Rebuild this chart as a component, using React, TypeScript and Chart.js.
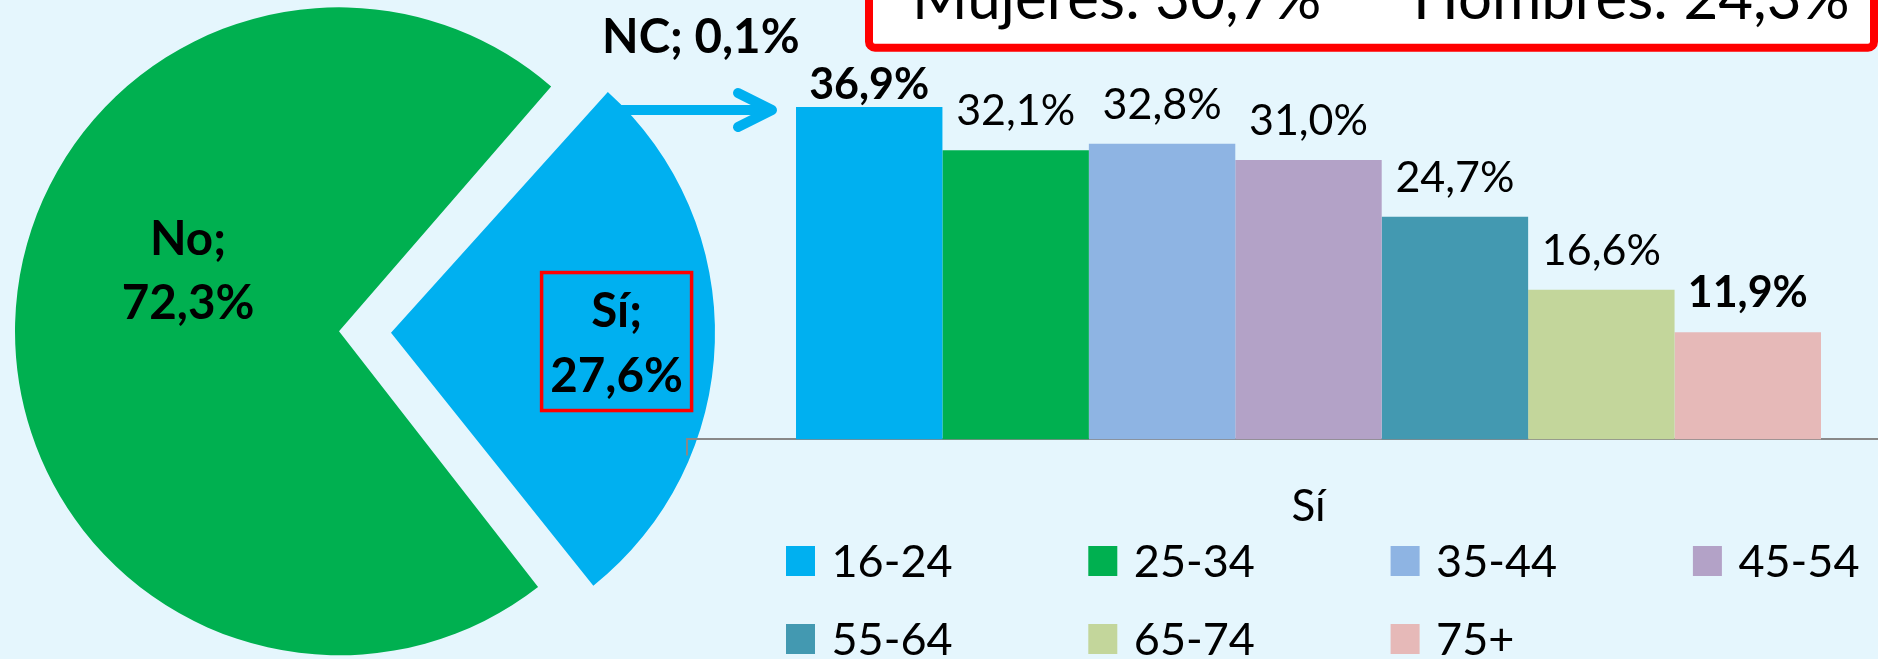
import React, { useEffect, useRef } from 'react';
import { Chart, registerables } from 'chart.js';

Chart.register(...registerables);

// ---------- data ----------
const pieLabels = ['Sí', 'No', 'NC'];
const pieValues = [27.6, 72.3, 0.1];
const pieColors = ['#00B0F0', '#00B050', '#D9D3BC'];

const barCategories = ['Sí'];
const ageGroups = ['16-24', '25-34', '35-44', '45-54', '55-64', '65-74', '75+'];
const siValues = [36.9, 32.1, 32.8, 31.0, 24.7, 16.6, 11.9];
const barColors = ['#00B0F0', '#00B050', '#8EB4E3', '#B3A2C7', '#4399B1', '#C3D69B', '#E6B9B8'];

const genderTexts = ['Mujeres: 30,7%', 'Hombres: 24,3%'];

// ---------- style ----------
const BG = '#E5F6FD';
const FONT = 'Lato, "Open Sans", sans-serif';
const fmt = (v: number) => v.toFixed(1).replace('.', ',') + '%';

// label placement for pie slices (angle delta from bisector, fraction of radius)
const piePlacement = [
  { dAngle: 0.8, frac: 0.697, twoLines: true, box: true },
  { dAngle: 20.6, frac: 0.503, twoLines: true, box: false },
  { dAngle: 7.2, frac: 1.302, twoLines: false, box: false },
];

// keep exploded slices at the nominal radius
const explodeFix = {
  id: 'explodeFix',
  beforeDatasetDraw(chart: any, args: any) {
    const meta = args.meta;
    const R = meta.controller.outerRadius;
    meta.data.forEach((arc: any) => {
      const off = (arc.options.offset || 0) / 4;
      const fix = 1 - Math.sin(Math.min(Math.PI, arc.circumference || 0));
      arc.outerRadius = R - off * fix;
    });
  },
};

const pieLabelPlugin = {
  id: 'pieLabelPlugin',
  afterDatasetsDraw(chart: any) {
    const ctx = chart.ctx;
    const meta = chart.getDatasetMeta(0);
    const R = meta.controller.outerRadius;
    const size = 47.5;
    const cap = 0.72 * size;
    const gap = 64.5;
    ctx.save();
    ctx.fillStyle = '#000';
    ctx.textAlign = 'center';
    ctx.textBaseline = 'alphabetic';
    ctx.font = `bold ${size}px ${FONT}`;
    meta.data.forEach((arc: any, i: number) => {
      const p = piePlacement[i];
      const off = (arc.options.offset || 0) / 4;
      const mid = (arc.startAngle + arc.endAngle) / 2;
      const ax = arc.x + Math.cos(mid) * off;
      const ay = arc.y + Math.sin(mid) * off;
      const a = mid + (p.dAngle * Math.PI) / 180;
      const cx = ax + Math.cos(a) * p.frac * R;
      const cy = ay + Math.sin(a) * p.frac * R;
      const name = pieLabels[i];
      const val = fmt(pieValues[i]);
      if (p.twoLines) {
        ctx.fillText(name + ';', cx, cy - gap / 2 + cap / 2);
        ctx.fillText(val, cx, cy + gap / 2 + cap / 2);
      } else {
        ctx.fillText(name + '; ' + val, cx, cy + cap / 2);
      }
      if (p.box) {
        ctx.strokeStyle = '#FF0000';
        ctx.lineWidth = 3.5;
        ctx.strokeRect(cx - 75, cy - 70, 150, 138);
      }
    });
    ctx.restore();
  },
};

const barLabelPlugin = {
  id: 'barLabelPlugin',
  afterDatasetsDraw(chart: any) {
    const ctx = chart.ctx;
    const max = Math.max(...siValues);
    const min = Math.min(...siValues);
    ctx.save();
    ctx.fillStyle = '#000';
    ctx.textAlign = 'center';
    ctx.textBaseline = 'alphabetic';
    chart.data.datasets.forEach((ds: any, i: number) => {
      const bar = chart.getDatasetMeta(i).data[0];
      const v = ds.data[0];
      const bold = v === max || v === min;
      ctx.font = `${bold ? 'bold ' : ''}43px ${FONT}`;
      const lift = i === 0 ? 7.5 : 25;
      ctx.fillText(fmt(v), bar.x, bar.y - lift);
    });
    ctx.restore();
  },
};

const legendPlugin = {
  id: 'gridLegend',
  afterDraw(chart: any) {
    const ctx = chart.ctx;
    const area = chart.chartArea;
    const cols = 4;
    const x0 = 786;
    const colW = 302.3;
    const row0 = area.bottom + 106.6;
    const rowH = 78;
    const bw = 29;
    const bh = 30;
    ctx.save();
    ctx.textAlign = 'left';
    ctx.textBaseline = 'alphabetic';
    ctx.font = `45px ${FONT}`;
    chart.data.datasets.forEach((ds: any, i: number) => {
      const c = i % cols;
      const r = Math.floor(i / cols);
      const x = x0 + c * colW;
      const y = row0 + r * rowH;
      ctx.fillStyle = ds.backgroundColor;
      ctx.fillRect(x, y, bw, bh);
      ctx.fillStyle = '#000';
      ctx.fillText(ds.label, x + bw + 16.5, y + bh + 1);
    });
    ctx.restore();
  },
};

const annotationPlugin = {
  id: 'annotations',
  afterDraw(chart: any) {
    const ctx = chart.ctx;
    ctx.save();
    // arrow
    ctx.strokeStyle = '#00B0F0';
    ctx.lineWidth = 10;
    ctx.lineCap = 'butt';
    ctx.beginPath();
    ctx.moveTo(612, 110);
    ctx.lineTo(770, 110);
    ctx.stroke();
    ctx.lineCap = 'round';
    ctx.lineJoin = 'round';
    ctx.beginPath();
    ctx.moveTo(738, 93);
    ctx.lineTo(772, 110);
    ctx.lineTo(738, 127);
    ctx.stroke();
    // gender box
    ctx.fillStyle = '#FFFFFF';
    ctx.strokeStyle = '#FF0000';
    ctx.lineWidth = 8;
    ctx.beginPath();
    ctx.roundRect(869, -40, 1005, 87.7, 6);
    ctx.fill();
    ctx.stroke();
    ctx.fillStyle = '#000';
    ctx.font = `60px ${FONT}`;
    ctx.textAlign = 'left';
    ctx.textBaseline = 'alphabetic';
    ctx.fillText(genderTexts[0], 912, 19);
    ctx.fillText(genderTexts[1], 1413, 19);
    ctx.restore();
  },
};

export default function App() {
  const pieRef = useRef<HTMLCanvasElement>(null);
  const barRef = useRef<HTMLCanvasElement>(null);

  useEffect(() => {
    document.body.style.margin = '0';
    document.body.style.background = BG;

    const pie = new Chart(pieRef.current!, {
      type: 'pie',
      data: {
        labels: pieLabels,
        datasets: [
          {
            data: pieValues,
            backgroundColor: pieColors,
            borderWidth: 0,
            offset: 104,
            hoverOffset: 0,
            radius: 324,
          } as any,
        ],
      },
      options: {
        animation: false,
        responsive: false,
        devicePixelRatio: 1,
        rotation: 42,
        layout: { padding: { left: 0, top: 0, bottom: 0, right: 270 } },
        plugins: { legend: { display: false }, tooltip: { enabled: false } },
        events: [],
      } as any,
      plugins: [explodeFix, pieLabelPlugin],
    });

    const bar = new Chart(barRef.current!, {
      type: 'bar',
      data: {
        labels: barCategories,
        datasets: ageGroups.map((g, i) => ({
          label: g,
          data: [siValues[i]],
          backgroundColor: barColors[i],
          borderWidth: 0,
          categoryPercentage: 0.8246,
          barPercentage: 1,
        })),
      },
      options: {
        animation: false,
        responsive: false,
        devicePixelRatio: 1,
        events: [],
        layout: { padding: { left: 687, right: 30, top: 79, bottom: 0 } },
        plugins: { legend: { display: false }, tooltip: { enabled: false } },
        scales: {
          x: {
            offset: true,
            grid: {
              display: true,
              offset: true,
              drawOnChartArea: false,
              drawTicks: true,
              tickLength: 16,
              color: '#888888',
              lineWidth: 2,
            },
            border: { display: true, color: '#888888', width: 2 },
            ticks: { color: '#000', font: { family: FONT, size: 44 }, padding: 25 },
            afterFit: (s: any) => {
              s.height = 219.6;
            },
          },
          y: { display: false, min: 0, max: 40 },
        },
      } as any,
      plugins: [barLabelPlugin, legendPlugin, annotationPlugin],
    });

    return () => {
      pie.destroy();
      bar.destroy();
    };
  }, []);

  return (
    <div style={{ position: 'relative', width: 1878, height: 659, overflow: 'hidden', background: BG }}>
      <canvas ref={pieRef} width={1000} height={664} style={{ position: 'absolute', left: 0, top: 0 }} />
      <canvas ref={barRef} width={1960} height={659} style={{ position: 'absolute', left: 0, top: 0 }} />
    </div>
  );
}
